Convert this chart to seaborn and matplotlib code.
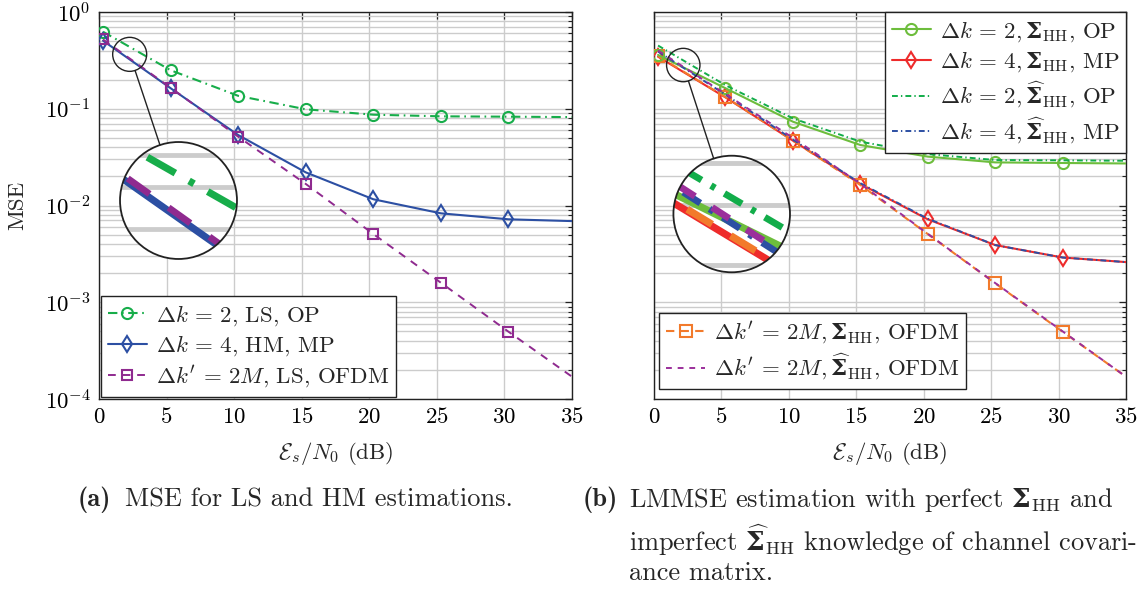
import matplotlib
matplotlib.use("Agg")
import matplotlib.pyplot as plt
import seaborn as sns
from matplotlib.patches import Circle, Ellipse
from matplotlib.lines import Line2D
from matplotlib.ticker import LogLocator, NullFormatter, FixedLocator

# SNR grid (dB); markers sit on the first seven points
snr_db = [0.3, 5.3, 10.3, 15.3, 20.3, 25.3, 30.3, 35.0]
x_ticks = [0, 5, 10, 15, 20, 25, 30, 35]

# (a) LS / HM estimation
mse_ls_op = [0.625, 0.25, 0.136, 0.0987, 0.0868, 0.0835, 0.0828, 0.082]
mse_hm_mp = [0.505, 0.163, 0.0535, 0.022, 0.0116, 0.0083, 0.0072, 0.0069]
mse_ls_ofdm = [0.52, 0.165, 0.0514, 0.0167, 0.00507, 0.00159, 0.000496, 0.00017]

# (b) LMMSE estimation, perfect and estimated covariance
lmmse_op = [0.36, 0.163, 0.0735, 0.0422, 0.032, 0.0279, 0.0275, 0.0272]
lmmse_mp = [0.345, 0.131, 0.0468, 0.0167, 0.0072, 0.0039, 0.0029, 0.0026]
lmmse_op_est = [0.45, 0.175, 0.0795, 0.0457, 0.034, 0.0295, 0.0293, 0.029]
lmmse_mp_est = [0.39, 0.14, 0.048, 0.017, 0.0073, 0.0039, 0.0029, 0.0026]
lmmse_ofdm = [0.35, 0.132, 0.0468, 0.0163, 0.00507, 0.00157, 0.000496, 0.00017]
lmmse_ofdm_est = [0.40, 0.142, 0.05, 0.0168, 0.0051, 0.00158, 0.0005, 0.00017]

SIG = r"\boldsymbol{\Sigma}_{\mathrm{HH}}"
SIG_HAT = r"\widehat{\boldsymbol{\Sigma}}_{\mathrm{HH}}"
EQ = r"\,=\,"

sns.set_theme(style="white")
plt.rcParams.update({
    "font.family": ["cmr10"],
    "mathtext.fontset": "custom",
    "mathtext.rm": "cmr10",
    "mathtext.it": "cmmi10",
    "mathtext.cal": "cmsy10",
    "mathtext.bf": "DejaVu Serif:bold",
    "mathtext.fallback": "cm",
    "axes.unicode_minus": False,
    "axes.formatter.use_mathtext": True,
    "font.size": 16.5,
    "axes.edgecolor": "#222222",
    "axes.linewidth": 1.0,
})

W, H = 1144, 595
fig = plt.figure(figsize=(W / 100, H / 100), dpi=100)
ax_a = fig.add_axes([99 / W, 1 - 399 / H, 473 / W, 387 / H])
ax_b = fig.add_axes([654 / W, 1 - 399 / H, 472 / W, 387 / H])

GRID = "#cccccc"
mark_idx = list(range(7))

dd_a = (0, (4.5, 2.2, 0.8, 2.2))
dd_b = (0, (3.0, 1.6, 0.7, 1.6))

series_a = [
    dict(y=mse_ls_op, color="#17ad4a", ls=dd_a, marker="o", ms=8, lw=1.5,
         label=rf"$\Delta k{EQ}2$, LS, OP", z=3),
    dict(y=mse_hm_mp, color="#2c4fa3", ls="-", marker="d", ms=8, lw=1.5,
         label=rf"$\Delta k{EQ}4$, HM, MP", z=3.1),
    dict(y=mse_ls_ofdm, color="#8f2a8f", ls=(0, (4, 3.5)), marker="s", ms=7.5, lw=1.4,
         label=rf"$\Delta k'{EQ}2M$, LS, OFDM", z=3.2),
]

series_b = [
    dict(y=lmmse_mp, color="#ee2b2b", ls="-", marker="d", ms=8, lw=1.5,
         label=rf"$\Delta k{EQ}4, {SIG}$, MP", z=3.0),
    dict(y=lmmse_ofdm, color="#f27a2b", ls=(0, (4, 3)), marker="s", ms=8, lw=1.5,
         label=rf"$\Delta k'{EQ}2M, {SIG}$, OFDM", z=3.1),
    dict(y=lmmse_op, color="#6dbd3c", ls="-", marker="o", ms=8, lw=1.5,
         label=rf"$\Delta k{EQ}2, {SIG}$, OP", z=3.2),
    dict(y=lmmse_mp_est, color="#2c4fa3", ls=dd_b, marker=None, ms=0, lw=1.4,
         label=rf"$\Delta k{EQ}4, {SIG_HAT}$, MP", z=3.3),
    dict(y=lmmse_ofdm_est, color="#9b2f9b", ls=(0, (3, 3)), marker=None, ms=0, lw=1.4,
         label=rf"$\Delta k'{EQ}2M, {SIG_HAT}$, OFDM", z=3.4),
    dict(y=lmmse_op_est, color="#12ad4a", ls=dd_b, marker=None, ms=0, lw=1.4,
         label=rf"$\Delta k{EQ}2, {SIG_HAT}$, OP", z=3.5),
]


def draw_series(ax, s, scale=1.0, with_markers=True):
    kw = dict(color=s["color"], linestyle=s["ls"], lw=s["lw"] * scale, zorder=s["z"])
    if with_markers and s["marker"]:
        kw.update(marker=s["marker"], markevery=mark_idx, markersize=s["ms"],
                  markerfacecolor="none", markeredgecolor=s["color"], markeredgewidth=1.5)
    sns.lineplot(x=snr_db, y=s["y"], ax=ax, label=s["label"], legend=False, **kw)
    return ax.lines[-1]


def style_axes(ax, show_ylabels=True):
    ax.set_yscale("log")
    ax.set_xlim(0, 35)
    ax.set_ylim(1e-4, 1)
    ax.xaxis.set_major_locator(FixedLocator(x_ticks))
    ax.yaxis.set_major_locator(LogLocator(base=10, numticks=10))
    ax.yaxis.set_minor_locator(LogLocator(base=10, subs=range(2, 10), numticks=20))
    ax.yaxis.set_minor_formatter(NullFormatter())
    ax.grid(which="major", color=GRID, lw=1.0, zorder=0)
    ax.grid(which="minor", axis="y", color=GRID, lw=1.0, zorder=0)
    ax.set_axisbelow(True)
    ax.tick_params(which="both", direction="in", top=True, right=True, colors="#222222",
                   labelsize=16.5, labelcolor="black")
    ax.tick_params(which="major", length=5, width=0.9, pad=6)
    ax.tick_params(which="minor", length=3, width=0.8)
    if not show_ylabels:
        ax.tick_params(axis="y", labelleft=False)
    ax.set_xlabel(r"$\mathcal{E}_s/N_0$ (dB)", fontsize=16.5, labelpad=9)
    for sp in ax.spines.values():
        sp.set_visible(True)


def add_spy(ax, series, xc, yc, r_px, big_center, mag):
    """Magnify a small circular region of ax into a larger circle."""
    fig.canvas.draw()
    bb = ax.get_position()
    px_x = bb.width * W / 35.0
    px_dec = bb.height * H / 4.0
    R = r_px * mag
    cx, cy = big_center
    iax = fig.add_axes([(cx - R) / W, 1 - (cy + R) / H, 2 * R / W, 2 * R / H])
    dx = r_px / px_x
    dd = r_px / px_dec
    iax.set_yscale("log")
    iax.axis("off")
    disk = Circle((0.5, 0.5), 0.5, transform=iax.transAxes, fc="white", ec="none", zorder=0)
    iax.add_patch(disk)
    for v in [0.1 * k for k in range(2, 10)]:
        gl = iax.axhline(v, color=GRID, lw=1.0 * mag, zorder=1)
        gl.set_clip_path(disk)
    for s in series:
        ln = draw_series(iax, s, scale=mag, with_markers=False)
        ln.set_clip_path(disk)
    iax.set_xlim(xc - dx, xc + dx)
    iax.set_ylim(yc * 10 ** (-dd), yc * 10 ** dd)
    iax.add_patch(Circle((0.5, 0.5), 0.5, transform=iax.transAxes, fc="none",
                         ec="#222222", lw=1.3, zorder=20, clip_on=False))
    # small circle on the main axes
    sx, sy_disp = ax.transData.transform((xc, yc))
    sy = H - sy_disp
    fig.add_artist(Ellipse((sx / W, 1 - sy / H), 2 * r_px / W, 2 * r_px / H,
                           transform=fig.transFigure, fc="none", ec="#222222", lw=1.0, zorder=20))
    ux, uy = cx - sx, cy - sy
    n = (ux ** 2 + uy ** 2) ** 0.5
    ux, uy = ux / n, uy / n
    p0 = (sx + ux * r_px, sy + uy * r_px)
    p1 = (cx - ux * R, cy - uy * R)
    fig.add_artist(Line2D([p0[0] / W, p1[0] / W], [1 - p0[1] / H, 1 - p1[1] / H],
                          transform=fig.transFigure, color="#222222", lw=1.0, zorder=20))


# ---- panel (a)
handles_a = [draw_series(ax_a, s) for s in series_a]
style_axes(ax_a, True)
ax_a.set_ylabel("MSE", fontsize=16.5)
ax_a.yaxis.set_label_coords(-(99 - 27) / 473, 0.5)
leg_kw = dict(frameon=True, fancybox=False, framealpha=1, edgecolor="#222222",
              fontsize=16.5, handlelength=1.7, handletextpad=0.4, borderpad=0.3,
              labelspacing=0.25, borderaxespad=0)
la = ax_a.legend(handles=handles_a, loc="lower left", bbox_to_anchor=(0.004, 0.005), **leg_kw)
la.get_frame().set_linewidth(1.0)

# ---- panel (b)
lines_b = {s["label"]: draw_series(ax_b, s) for s in series_b}
style_axes(ax_b, False)
lb = [s["label"] for s in series_b]
top_handles = [lines_b[lb[2]], lines_b[lb[0]], lines_b[lb[5]], lines_b[lb[3]]]
bot_handles = [lines_b[lb[1]], lines_b[lb[4]]]
l1 = ax_b.legend(handles=top_handles, loc="upper right", bbox_to_anchor=(1.0, 1.0), **leg_kw)
l1.get_frame().set_linewidth(1.0)
ax_b.add_artist(l1)
l2 = ax_b.legend(handles=bot_handles, loc="lower left", bbox_to_anchor=(0.011, 0.026), **leg_kw)
l2.get_frame().set_linewidth(1.0)

# ---- magnified views
add_spy(ax_a, series_a, 2.27, 0.365, 17, (178.5, 200.5), 3.44)
add_spy(ax_b, series_b, 2.17, 0.283, 16.7, (731.7, 214.0), 3.49)

# ---- captions
cap = 19
fig.text(78 / W, 1 - 500 / H, "(a)", family="cmb10", fontsize=cap, va="center")
fig.text(125 / W, 1 - 500 / H, "MSE for LS and HM estimations.", fontsize=cap, va="center")
fig.text(583 / W, 1 - 500 / H, "(b)", family="cmb10", fontsize=cap, va="center")
fig.text(629 / W, 1 - 500 / H, rf"LMMSE estimation with perfect ${SIG}$ and",
         fontsize=cap, va="center")
fig.text(629 / W, 1 - 540 / H, rf"imperfect ${SIG_HAT}$ knowledge of channel covari-",
         fontsize=cap, va="center")
fig.text(629 / W, 1 - 573 / H, "ance matrix.", fontsize=cap, va="center")

fig.savefig("out.png", dpi=100, facecolor="white")
